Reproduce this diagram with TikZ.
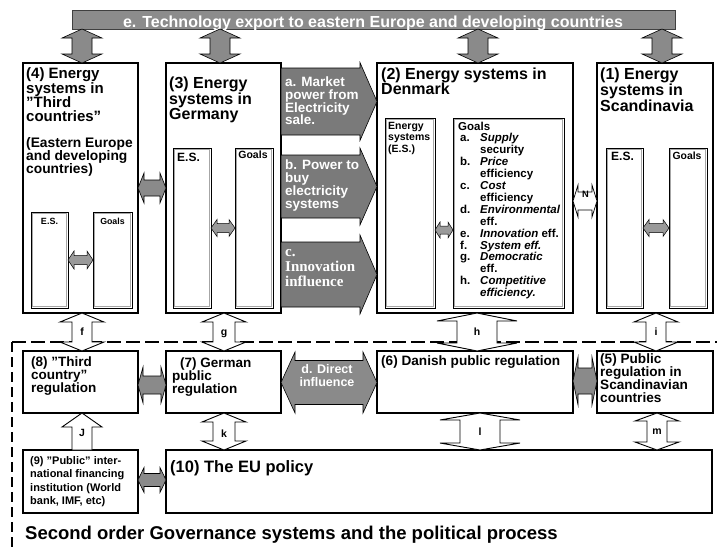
\documentclass[tikz,border=0pt]{standalone}
\usepackage{fontspec}
\setmainfont{Liberation Sans}
\newfontfamily\serifbold{Liberation Serif}
\usetikzlibrary{calc}

\definecolor{bandgrey}{HTML}{8C8C8C}
\definecolor{flowgrey}{HTML}{7A7A7A}
\definecolor{linkgrey}{HTML}{8A8A8A}
\definecolor{smallgrey}{HTML}{9A9A9A}

\newcommand\fsz[2]{\fontsize{#1}{#2}\selectfont}
\newcommand\gi[1]{\hspace*{2pt}\makebox[20pt][l]{#1}}

% vertical double block arrow: style, x, upper anchor, lower anchor, head half-width, body half-width, head length
\newcommand\blkV[7]{%
  \path[#1] let \p1=(#3), \p2=(#4) in
    (#2pt,\y1) -- (#2pt+#5pt,\y1-#7pt) -- (#2pt+#6pt,\y1-#7pt)
    -- (#2pt+#6pt,\y2+#7pt) -- (#2pt+#5pt,\y2+#7pt) -- (#2pt,\y2)
    -- (#2pt-#5pt,\y2+#7pt) -- (#2pt-#6pt,\y2+#7pt)
    -- (#2pt-#6pt,\y1-#7pt) -- (#2pt-#5pt,\y1-#7pt) -- cycle;}

% horizontal double block arrow: style, y, left anchor, right anchor, head half-height, body half-height, head length
\newcommand\blkH[7]{%
  \path[#1] let \p1=(#3), \p2=(#4) in
    (\x1,-#2pt) -- (\x1+#7pt,-#2pt+#5pt) -- (\x1+#7pt,-#2pt+#6pt)
    -- (\x2-#7pt,-#2pt+#6pt) -- (\x2-#7pt,-#2pt+#5pt) -- (\x2,-#2pt)
    -- (\x2-#7pt,-#2pt-#5pt) -- (\x2-#7pt,-#2pt-#6pt)
    -- (\x1+#7pt,-#2pt-#6pt) -- (\x1+#7pt,-#2pt-#5pt) -- cycle;}

% block arrow pointing right: style, y, left anchor, right anchor, head half-height, body half-height, head length
\newcommand\blkR[7]{%
  \path[#1] let \p1=(#3), \p2=(#4) in
    (\x1,-#2pt+#6pt) -- (\x2-#7pt,-#2pt+#6pt) -- (\x2-#7pt,-#2pt+#5pt) -- (\x2,-#2pt)
    -- (\x2-#7pt,-#2pt-#5pt) -- (\x2-#7pt,-#2pt-#6pt) -- (\x1,-#2pt-#6pt) -- cycle;}

% block arrow pointing up: style, x, upper anchor, lower anchor, head half-width, body half-width, head length
\newcommand\blkU[7]{%
  \path[#1] let \p1=(#3), \p2=(#4) in
    (#2pt,\y1) -- (#2pt+#5pt,\y1-#7pt) -- (#2pt+#6pt,\y1-#7pt) -- (#2pt+#6pt,\y2)
    -- (#2pt-#6pt,\y2) -- (#2pt-#6pt,\y1-#7pt) -- (#2pt-#5pt,\y1-#7pt) -- cycle;}

\begin{document}
\begin{tikzpicture}[x=1pt,y=-1pt,
  box/.style={draw=black, line width=1.4pt, fill=white, anchor=north west, inner sep=0pt, outer sep=0pt},
  inbox/.style={draw=black, line width=0.8pt, fill=white, anchor=north west, inner sep=0pt, outer sep=0pt,
    path picture={\draw[gray!70, line width=0.6pt]
      ([shift={(1.6pt,-1.6pt)}]path picture bounding box.north west) rectangle
      ([shift={(-1.6pt,1.6pt)}]path picture bounding box.south east);}},
  txt/.style={anchor=north west, inner sep=0pt, align=left},
  greyflow/.style={draw=black, line width=0.6pt, fill=flowgrey},
  greylink/.style={draw=black, line width=0.6pt, fill=linkgrey},
  greysmall/.style={draw=black, line width=0.5pt, fill=smallgrey},
  whitelink/.style={draw=black, line width=0.9pt, fill=white},
  lbl/.style={anchor=base, inner sep=0pt, font=\bfseries\fsz{10.5}{11}},
  fliptext/.style={anchor=north west, inner sep=0pt, align=left, text=white}]
\useasboundingbox (0,0) rectangle (717,550);

% technology export band
\node[box, fill=bandgrey, draw=black!75, line width=0.8pt, minimum width=603pt, minimum height=19pt] (ban) at (72,10) {};
\node[anchor=base, inner sep=0pt, text=white, font=\bfseries\fsz{16}{16}] (bantxt) at (373,27)
  {e. Technology export to eastern Europe and developing countries};

% first order energy systems
\node[box, minimum width=115pt, minimum height=250pt] (b4) at (23,63) {};
\node[box, minimum width=115pt, minimum height=250pt] (b3) at (166,63) {};
\node[box, minimum width=196pt, minimum height=250pt] (b2) at (377,63) {};
\node[box, minimum width=116pt, minimum height=250pt] (b1) at (597,63) {};

\blkV{greylink}{82}{ban.south}{b4.north}{20}{10}{9}
\blkV{greylink}{220}{ban.south}{b3.north}{20}{10}{9}
\blkV{greylink}{478}{ban.south}{b2.north}{20}{10}{9}
\blkV{greylink}{662}{ban.south}{b1.north}{20}{10}{9}

\node[txt, font=\bfseries\fsz{15}{14}] (t4) at (26,67) {(4) Energy\\systems in\\”Third\\countries”};
\node[txt, font=\bfseries\fsz{13.8}{13}] (t4b) at (26,137) {(Eastern Europe\\and developing\\countries)};
\node[txt, font=\bfseries\fsz{16}{14.5}] (t3) at (169,77) {(3) Energy\\systems in\\Germany};
\node[txt, font=\bfseries\fsz{16}{15}] (t2) at (381,68) {(2) Energy systems in\\Denmark};
\node[txt, font=\bfseries\fsz{16}{15.7}] (t1) at (600,68) {(1) Energy\\systems in\\Scandinavia};

% energy systems and goals inside each box
\node[inbox, minimum width=37pt, minimum height=96pt] (es4) at (31,212) {};
\node[inbox, minimum width=39pt, minimum height=96pt] (go4) at (93,212) {};
\node[inbox, minimum width=38pt, minimum height=160pt] (es3) at (173,148) {};
\node[inbox, minimum width=38pt, minimum height=160pt] (go3) at (235,148) {};
\node[inbox, minimum width=50pt, minimum height=190pt] (es2) at (385,118) {};
\node[inbox, minimum width=111pt, minimum height=190pt] (go2) at (453,118) {};
\node[inbox, minimum width=37pt, minimum height=160pt] (es1) at (606,148) {};
\node[inbox, minimum width=38pt, minimum height=160pt] (go1) at (669,148) {};

\node[anchor=north, inner sep=0pt, font=\bfseries\fsz{9}{10}] (es4t) at (49.5,218) {E.S.};
\node[anchor=north, inner sep=0pt, font=\bfseries\fsz{8.8}{10}] (go4t) at (112.5,218) {Goals};
\node[txt, font=\bfseries\fsz{12}{12}] (es3t) at (177,152.5) {E.S.};
\node[anchor=north, inner sep=0pt, font=\bfseries\fsz{10.5}{11}] (go3t) at (253,151) {Goals};
\node[txt, font=\bfseries\fsz{10.5}{11.5}] (es2t) at (388,122) {Energy\\systems\\(E.S.)};
\node[txt, font=\bfseries\fsz{11.5}{11.9}] (go2t) at (458,121.5) {Goals\\
\gi{a.}\textit{Supply}\\\gi{}security\\
\gi{b.}\textit{Price}\\\gi{}efficiency\\
\gi{c.}\textit{Cost}\\\gi{}efficiency\\
\gi{d.}\textit{Environmental}\\\gi{}eff.\\
\gi{e.}\textit{Innovation} eff.\\
\gi{f.}\textit{System eff.}\\
\gi{g.}\textit{Democratic}\\\gi{}eff.\\
\gi{h.}\textit{Competitive}\\\gi{}\textit{efficiency.}};
\node[txt, font=\bfseries\fsz{12}{12}] (es1t) at (611,152) {E.S.};
\node[anchor=north, inner sep=0pt, font=\bfseries\fsz{10.4}{11}] (go1t) at (687,151.5) {Goals};

\blkH{greysmall}{260}{es4.east}{go4.west}{9}{4.5}{6}
\blkH{greysmall}{228}{es3.east}{go3.west}{8.5}{4.5}{6}
\blkH{greysmall}{230}{es2.east}{go2.west}{8}{4}{5}
\blkH{greysmall}{228}{es1.east}{go1.west}{8.5}{4.5}{6}

% links between the national energy systems
\blkH{greylink}{188}{b4.east}{b3.west}{15}{8}{6}
\blkH{whitelink, line width=0.7pt}{201}{b2.east}{b1.west}{16}{9}{5}
\node[lbl, font=\bfseries\fsz{9.3}{10}] (nlab) at (585.5,197.5) {N};

\blkR{greyflow}{101.5}{b3.east}{b2.west}{39}{33.5}{17}
\blkR{greyflow}{186.5}{b3.east}{b2.west}{38.5}{31.5}{17}
\blkR{greyflow}{274.5}{b3.east}{b2.west}{39.5}{32.5}{17}
\node[fliptext, font=\bfseries\fsz{13.5}{12.8}] (ta) at (285,76.5) {a. Market\\power from\\Electricity\\sale.};
\node[fliptext, font=\bfseries\fsz{13.5}{13}] (tb) at (285,160) {b. Power to\\buy\\electricity\\systems};
\node[fliptext, font=\serifbold\bfseries\fsz{15}{15}] (tc) at (285,249) {c.\\Innovation\\influence};

% boundary of the second order governance systems
\coordinate (dl) at (12,342);
\coordinate (dr) at (717,342);
\coordinate (db) at (12,550);
\draw[line width=1.8pt, dash pattern=on 14pt off 5pt] (dl) -- (dr);
\draw[line width=1.8pt, dash pattern=on 10pt off 5pt] (dl) -- (db);

% public regulation
\node[box, minimum width=115pt, minimum height=62pt] (b8) at (23,351) {};
\node[box, minimum width=115pt, minimum height=62pt] (b7) at (166,351) {};
\node[box, minimum width=196pt, minimum height=62pt] (b6) at (377,351) {};
\node[box, minimum width=116pt, minimum height=62pt] (b5) at (597,351) {};
\node[box, minimum width=115pt, minimum height=63pt] (b9) at (23,450) {};
\node[box, minimum width=546pt, minimum height=63pt] (b10) at (166,450) {};

\node[txt, font=\bfseries\fsz{13.5}{13}] (t8) at (31,356.5) {(8) "Third\\country”\\regulation};
\node[txt, font=\bfseries\fsz{13.5}{13}] (t7) at (172,357.5) {\hspace*{8pt}(7) German\\public\\regulation};
\node[anchor=base west, inner sep=0pt, font=\bfseries\fsz{13.6}{14}] (t6) at (381,365) {(6) Danish public regulation};
\node[txt, font=\bfseries\fsz{13.6}{13}] (t5) at (600,353) {(5) Public\\regulation in\\Scandinavian\\countries};
\node[txt, font=\bfseries\fsz{11}{13.3}] (t9) at (30,456.5) {(9) "Public" inter-\\national financing\\institution (World\\bank, IMF, etc)};
\node[anchor=base west, inner sep=0pt, font=\bfseries\fsz{16.5}{17}] (t10) at (170,472) {(10) The EU policy};

% links between levels
\blkV{whitelink}{82}{b4.south}{b8.north}{22}{10}{9}
\blkV{whitelink}{224}{b3.south}{b7.north}{22}{11}{9}
\blkV{whitelink}{477}{b2.south}{b6.north}{40}{20}{8}
\blkV{whitelink}{656}{b1.south}{b5.north}{22}{10}{9}
\node[lbl] (lf) at (82,335) {f};
\node[lbl] (lg) at (224,335) {g};
\node[lbl] (lh) at (477,335) {h};
\node[lbl] (li) at (656,335) {i};

\blkU{whitelink}{82}{b8.south}{b9.north}{20}{10}{14}
\blkV{whitelink}{224}{b7.south}{b10.north}{22}{11}{9}
\blkV{whitelink}{480}{b6.south}{b10.north}{40}{20}{7}
\blkV{whitelink}{657}{b5.south}{b10.north}{22}{10}{8}
\node[lbl] (lj) at (82,436) {J};
\node[lbl] (lk) at (224,437) {k};
\node[lbl] (ll) at (480,435) {l};
\node[lbl] (lm) at (657,434.5) {m};

\blkH{greylink}{385}{b8.east}{b7.west}{18}{9}{5}
\blkH{greylink}{382.5}{b7.east}{b6.west}{30.5}{22}{14}
\blkH{greylink}{381}{b6.east}{b5.west}{24}{13}{5}
\blkH{greylink}{480}{b9.east}{b10.west}{12.5}{6.5}{6}
\node[anchor=center, inner sep=0pt, align=center, text=white, font=\bfseries\fsz{12.5}{13}] (td) at (327,375.5) {d. Direct\\influence};

\node[anchor=base west, inner sep=0pt, font=\bfseries\fsz{18.5}{19}] (tgov) at (25,539)
  {Second order Governance systems and the political process};
\end{tikzpicture}
\end{document}
